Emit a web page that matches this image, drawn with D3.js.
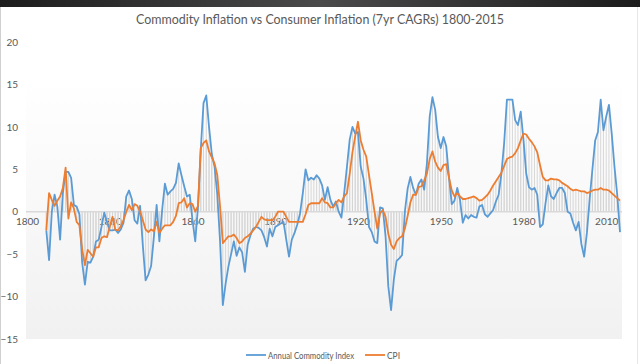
<!DOCTYPE html>
<html>
<head>
<meta charset="utf-8">
<script src="https://cdn.jsdelivr.net/npm/d3@7/dist/d3.min.js"></script>
<style>
html,body{margin:0;padding:0;background:#fff;}
svg{display:block;}
text{font-family:Lato,"Open Sans",sans-serif;fill:#595959;}
</style>
</head>
<body>
<svg id="chart" width="640" height="364"></svg>
<script>
// ---- data ----
const years = d3.range(1807, 2016);
const commodity = [
-2.2,-5.7,0.0,2.0,0.6,-3.3,2.2,4.7,4.7,4.0,
0.8,0.6,-0.3,-6.0,-8.6,-5.9,-6.0,-5.3,-3.5,-3.3,
-1.8,-0.1,-1.2,-2.2,-2.2,-2.1,-2.5,-2.1,-1.3,1.8,
2.5,1.5,-1.0,-1.4,0.7,-4.0,-8.1,-7.4,-6.4,-3.0,
0.8,-3.5,0.2,3.3,2.0,2.4,2.7,3.4,5.7,4.3,
3.0,1.8,2.0,-1.0,-3.5,0.6,7.3,12.8,13.7,10.0,
6.8,5.3,2.0,-3.5,-11.0,-8.5,-6.5,-5.0,-3.5,-5.2,
-4.2,-4.8,-7.1,-3.9,-2.8,-2.0,-1.8,-1.9,-2.2,-3.0,
-4.1,-2.0,-2.9,-1.8,-1.6,-1.4,-1.2,-3.3,-5.3,-3.3,
-2.5,-1.5,-0.2,2.2,5.0,3.7,4.0,3.8,4.3,3.9,
3.1,1.4,2.9,1.4,0.6,1.2,0.0,-0.7,2.2,5.3,
8.5,10.0,9.2,9.4,5.3,3.9,1.4,-1.8,-2.4,-3.5,
-3.7,0.5,0.4,-2.9,-8.8,-11.6,-8.0,-5.8,-5.5,-5.1,
0.0,2.7,4.1,2.8,2.0,3.3,3.8,2.6,5.7,11.2,
13.5,12.0,8.8,7.5,8.8,7.7,4.1,0.9,1.3,2.8,
1.4,-1.3,-0.4,-0.8,-0.4,-0.6,-0.7,0.6,0.8,-0.3,
-0.6,-0.2,0.2,1.2,2.0,4.5,8.1,13.2,13.2,13.2,
10.8,10.2,11.8,8.5,4.5,2.9,2.6,2.8,2.0,-1.8,
-1.5,1.0,3.1,1.8,1.5,2.2,2.8,2.8,2.2,0.0,
-0.2,-1.3,-2.2,-1.2,-3.8,-5.3,-2.5,1.5,5.0,8.4,
9.4,13.2,9.6,11.2,12.6,9.2,5.3,2.0,-2.4
];
const cpi = [
-2.2,2.2,1.4,0.7,1.3,1.8,2.8,5.2,-0.8,1.1,
0.4,-1.2,-1.6,-4.4,-6.3,-4.5,-4.9,-5.3,-4.2,-4.2,
-3.1,-2.9,-3.0,-1.8,-0.6,-2.1,-2.2,-1.7,-1.0,0.0,
0.8,0.2,0.9,0.7,0.0,-1.0,-2.1,-2.4,-2.1,-2.3,
-1.2,-2.5,-2.0,-1.6,-1.6,-1.6,-1.2,-0.5,1.0,1.1,
1.6,0.5,1.0,0.9,0.0,0.7,7.5,8.1,8.4,7.1,
6.4,5.7,4.3,0.6,-3.7,-3.3,-2.9,-2.9,-2.7,-3.1,
-3.7,-3.5,-3.1,-2.9,-2.6,-2.2,-1.8,-1.2,-0.6,-0.9,
-1.0,-1.0,-1.0,-0.6,0.0,0.0,0.0,-0.6,-1.2,-1.2,
-1.2,-1.2,-1.2,-1.2,-0.3,0.8,1.0,1.0,1.0,1.0,
1.6,1.1,1.0,0.5,0.5,1.0,1.4,1.1,1.8,2.2,
4.5,7.0,8.9,10.6,8.4,7.3,6.5,4.3,2.2,0.0,
-2.0,-0.2,0.2,-0.6,-2.6,-3.9,-4.4,-3.5,-3.1,-2.9,
-2.0,-0.5,1.1,2.0,2.0,2.9,3.0,3.7,4.5,6.2,
7.1,5.9,5.2,4.8,5.5,5.6,4.0,2.5,1.8,2.2,
1.8,1.5,1.5,1.6,1.7,1.8,1.6,1.3,1.4,1.7,
2.0,2.5,3.1,3.6,4.1,4.6,5.4,6.2,6.4,6.5,
6.9,7.5,8.4,9.2,9.1,8.6,8.2,7.7,7.0,5.5,
4.1,3.7,3.7,3.9,3.8,3.8,3.7,3.4,3.2,3.0,
2.7,2.5,2.6,2.5,2.4,2.4,2.2,2.3,2.5,2.6,
2.6,2.8,2.6,2.6,2.5,2.2,1.9,1.6,1.3
];
const xTickLabels = [1800, 1830, 1860, 1890, 1920, 1950, 1980, 2010];
const yTickLabels = [-15, -10, -5, 0, 5, 10, 15, 20];
const seriesNames = ["Annual Commodity Index", "CPI"];
const seriesColors = ["#5b9bd5", "#ed7d31"];
const titleText = "Commodity Inflation vs Consumer Inflation (7yr CAGRs) 1800-2015";

// ---- drawing ----
const svg = d3.select("#chart");
const W = 640, H = 364;
const x = d3.scaleLinear().domain([1800, 2015]).range([27, 620]);
const y = d3.scaleLinear().domain([-15, 20]).range([339, 42]);

const defs = svg.append("defs");
const tg = defs.append("linearGradient").attr("id","topbar").attr("x1","0").attr("x2","1").attr("y1","0").attr("y2","0");
tg.append("stop").attr("offset","0").attr("stop-color","#1c1c1c");
tg.append("stop").attr("offset","0.5").attr("stop-color","#4a4a4a");
tg.append("stop").attr("offset","1").attr("stop-color","#1c1c1c");
const pg = defs.append("linearGradient").attr("id","plotbg").attr("x1","0").attr("x2","0").attr("y1","0").attr("y2","1");
pg.append("stop").attr("offset","0").attr("stop-color","#ffffff");
pg.append("stop").attr("offset","1").attr("stop-color","#f1f1f1");

svg.append("rect").attr("width",W).attr("height",H).attr("fill","#ffffff");
svg.append("rect").attr("x",0).attr("y",0).attr("width",W).attr("height",7).attr("fill","url(#topbar)");
svg.append("line").attr("x1",0.5).attr("x2",0.5).attr("y1",7).attr("y2",H).attr("stroke","#d0d0d0");
svg.append("line").attr("x1",637.5).attr("x2",637.5).attr("y1",7).attr("y2",H).attr("stroke","#e6e6e6");

// plot area
svg.append("rect").attr("x",26).attr("y",77).attr("width",596).attr("height",262).attr("fill","url(#plotbg)");

// title
svg.append("text").attr("x",320).attr("y",24).attr("text-anchor","middle")
  .attr("font-size",14).attr("textLength",368).attr("lengthAdjust","spacingAndGlyphs").text(titleText);

// y axis labels
const yAxis = d3.axisLeft(y).tickValues(yTickLabels).tickSize(0).tickPadding(0).tickFormat(d3.format("d"));
const yg = svg.append("g").attr("transform","translate(18,0)").call(yAxis);
yg.select(".domain").remove();
yg.selectAll("text").attr("font-size",10).attr("fill","#595959").style("font-family","Lato, sans-serif");

// x axis labels (at zero line)
const xAxis = d3.axisBottom(x).tickValues(xTickLabels).tickSize(0).tickPadding(0).tickFormat(d3.format("d"));
const xg = svg.append("g").attr("transform",`translate(0,${y(0)+6})`).call(xAxis);
xg.select(".domain").remove();
xg.selectAll("text").attr("font-size",10).attr("fill","#595959").style("font-family","Lato, sans-serif");

// drop lines
const drops = svg.append("g").attr("stroke","#d4d4d4").attr("stroke-width",0.9);
[commodity, cpi].forEach(vals => {
  drops.selectAll(null).data(years).enter().append("line")
    .attr("x1", d => x(d)).attr("x2", d => x(d))
    .attr("y1", y(0)).attr("y2", (d,i) => y(vals[i]));
});

// zero line
svg.append("line").attr("x1",x(1800)-1).attr("x2",622).attr("y1",y(0)).attr("y2",y(0))
  .attr("stroke","#d9d9d9").attr("stroke-width",1.5);

// series lines
const line = d3.line().x((d,i) => x(years[i])).y(d => y(d));
[commodity, cpi].forEach((vals, k) => {
  svg.append("path").datum(vals).attr("d", line).attr("fill","none")
    .attr("stroke", seriesColors[k]).attr("stroke-width",1.8).attr("stroke-linejoin","round");
});

// legend
const legendPos = [{lx:246, tx:268, tw:86}, {lx:365, tx:387, tw:13}];
seriesNames.forEach((name, k) => {
  const p = legendPos[k];
  svg.append("line").attr("x1",p.lx).attr("x2",p.lx+20).attr("y1",355).attr("y2",355)
    .attr("stroke",seriesColors[k]).attr("stroke-width",1.8);
  svg.append("text").attr("x",p.tx).attr("y",358.5).attr("font-size",10)
    .attr("textLength",p.tw).attr("lengthAdjust","spacingAndGlyphs").text(name);
});
</script>
</body>
</html>
